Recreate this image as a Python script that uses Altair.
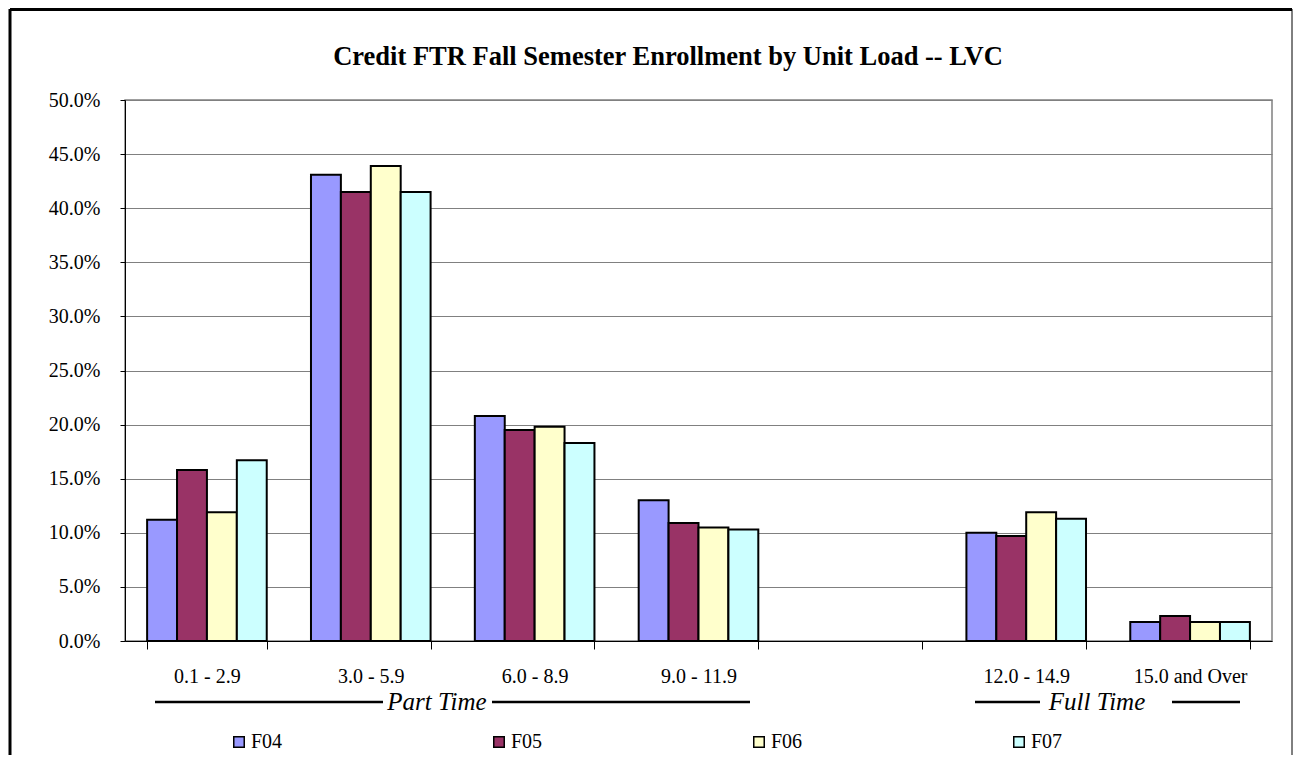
import altair as alt
import pandas as pd

categories = ["0.1 - 2.9", "3.0 - 5.9", "6.0 - 8.9", "9.0 - 11.9", " ", "12.0 - 14.9", "15.0 and Over"]
series = ["F04", "F05", "F06", "F07"]
colors = ["#9999FF", "#993366", "#FFFFCC", "#CCFFFF"]
title_text = ["Credit FTR Fall Semester Enrollment by Unit Load -- LVC"]

f04 = [0.112, 0.431, 0.208, 0.130, None, 0.100, 0.0175]
f05 = [0.158, 0.415, 0.195, 0.109, None, 0.097, 0.023]
f06 = [0.119, 0.439, 0.198, 0.105, None, 0.119, 0.0175]
f07 = [0.167, 0.415, 0.183, 0.103, None, 0.113, 0.0175]

rows = []
for name, vals in zip(series, [f04, f05, f06, f07]):
    for c, v in zip(categories, vals):
        if v is not None:
            rows.append({"load": c, "year": name, "pct": v})
df = pd.DataFrame(rows)

FONT = "Liberation Serif"

bars = alt.Chart(df).mark_bar(stroke="black", strokeWidth=2).encode(
    x=alt.X("load:N", sort=categories,
            scale=alt.Scale(domain=categories, paddingInner=0.27, paddingOuter=0.135),
            axis=alt.Axis(title=None, labelAngle=0, tickBand="extent", tickSize=8,
                          labelPadding=17, labelFontSize=20, labelFont=FONT,
                          domainColor="black", tickColor="black", labelColor="black",
                          grid=False)),
    xOffset=alt.XOffset("year:N", sort=series, scale=alt.Scale(paddingInner=0, paddingOuter=0)),
    y=alt.Y("pct:Q", scale=alt.Scale(domain=[0, 0.5]),
            axis=alt.Axis(title=None, format=".1%", values=[i * 0.05 for i in range(11)],
                          tickSize=5, labelPadding=20, labelFontSize=20, labelFont=FONT,
                          domainColor="black", tickColor="black", labelColor="black",
                          gridColor="#808080", gridWidth=1)),
    color=alt.Color("year:N", sort=series,
                    scale=alt.Scale(domain=series, range=colors),
                    legend=alt.Legend(title=None, orient="none", legendX=104, legendY=632,
                                      direction="horizontal", columns=4, columnPadding=206,
                                      symbolType="square", symbolSize=110,
                                      symbolStrokeColor="black", symbolStrokeWidth=1.5,
                                      labelFontSize=20, labelFont=FONT, labelOffset=2,
                                      labelColor="black")),
)

# group annotation lines & labels (decoration)
ann_lines = pd.DataFrame({
    "x": [30, 367, 850, 1047],
    "x2": [258, 625, 915, 1115],
})
lines = alt.Chart(ann_lines).mark_rule(stroke="black", strokeWidth=2.5).encode(
    x=alt.X("x:Q", scale=None), x2="x2:Q", y=alt.value(602)
)
ann_text = pd.DataFrame({"label": ["Part Time", "Full Time"], "x": [312, 972]})
texts = alt.Chart(ann_text).mark_text(font=FONT, fontSize=25, fontStyle="italic",
                                      baseline="middle", color="black").encode(
    x=alt.X("x:Q", scale=None), y=alt.value(602), text="label:N"
)

# chart title as a text mark
title_mark = alt.Chart(pd.DataFrame({"t": title_text})).mark_text(
    font=FONT, fontSize=26.5, fontWeight="bold", color="black",
    align="center", baseline="middle"
).encode(x=alt.value(543), y=alt.value(-43), text="t:N")

# outer frame (decoration)
frame = pd.DataFrame({
    "x": [-115, -115, 1167],
    "x2": [-115, 1167, 1167],
    "y": [-91, -90.5, -91],
    "y2": [680, -90.5, 680],
    "w": [3, 3, 1],
})
frame_rules = alt.Chart(frame).mark_rule(stroke="black").encode(
    x=alt.X("x:Q", scale=None), x2="x2:Q",
    y=alt.Y("y:Q", scale=None), y2="y2:Q",
    strokeWidth=alt.StrokeWidth("w:Q", scale=None),
)

chart = alt.layer(bars, lines, texts, title_mark, frame_rules).resolve_scale(
    x="independent", y="independent"
).properties(
    width=1147,
    height=541,
    autosize=alt.AutoSizeParams(type="none"),
    padding={"left": 117, "top": 92, "right": 21, "bottom": 114},
).configure_view(stroke="#808080", strokeWidth=1.5)

chart.save("out.html", embed_options={"renderer": "svg", "actions": False})
